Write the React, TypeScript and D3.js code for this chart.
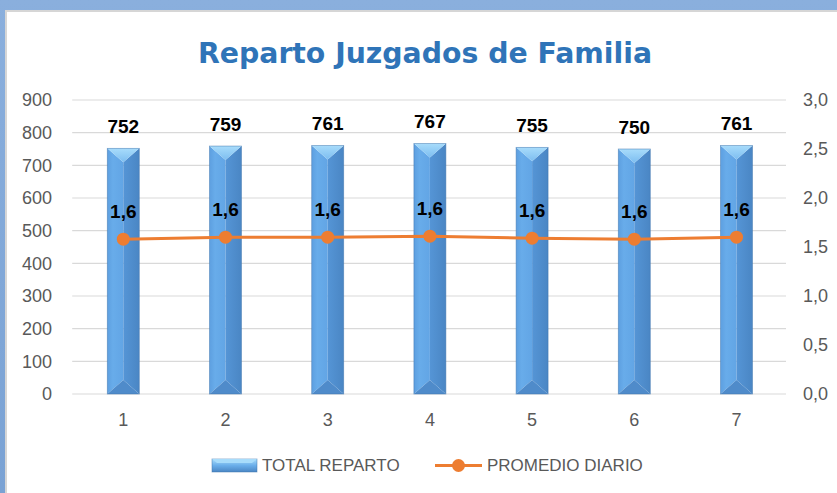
import React from "react";
import * as d3 from "d3";

const categories = ["1", "2", "3", "4", "5", "6", "7"];
const totalReparto = [752, 759, 761, 767, 755, 750, 761];
const promedioDiario = [1.58, 1.6, 1.6, 1.61, 1.59, 1.58, 1.6];
const promedioLabels = ["1,6", "1,6", "1,6", "1,6", "1,6", "1,6", "1,6"];
const leftTicks = [0, 100, 200, 300, 400, 500, 600, 700, 800, 900];
const rightTicks = [0, 0.5, 1, 1.5, 2, 2.5, 3];
const seriesNames = ["TOTAL REPARTO", "PROMEDIO DIARIO"];
const title = "Reparto Juzgados de Familia";

const W = 837;
const H = 493;
const plotL = 72.2;
const plotR = 787.6;
const plotT = 100;
const plotB = 394;
const FONT = "'Liberation Sans', Arial, sans-serif";

export default function App() {
  const x = d3
    .scaleBand<string>()
    .domain(categories)
    .range([plotL, plotR])
    .paddingInner(0.687)
    .paddingOuter(0.687 / 2);
  const yL = d3.scaleLinear().domain([0, 900]).range([plotB, plotT]);
  const yR = d3.scaleLinear().domain([0, 3]).range([plotB, plotT]);
  const bw = x.bandwidth();
  const cx = (c: string) => (x(c) as number) + bw / 2;

  const line = d3
    .line<number>()
    .x((_, i) => cx(categories[i]))
    .y((d) => yR(d));

  const fmtR = (v: number) => v.toFixed(1).replace(".", ",");
  const bev = 14;

  return (
    <div style={{ position: "absolute", left: 0, top: 0 }}>
      <svg width={W} height={H} style={{ display: "block" }}>
        <defs>
          <linearGradient id="frame" x1="0" y1="0" x2="0" y2="1">
            <stop offset="0" stopColor="#8aafdd" />
            <stop offset="1" stopColor="#7aa2d4" />
          </linearGradient>
          <linearGradient id="topTri" x1="0" y1="0" x2="0" y2="1">
            <stop offset="0" stopColor="#a8dcfb" />
            <stop offset="1" stopColor="#7cbdf0" />
          </linearGradient>
          <linearGradient id="leftFace" x1="0" y1="0" x2="1" y2="0">
            <stop offset="0" stopColor="#5d9fe0" />
            <stop offset="0.35" stopColor="#68acea" />
            <stop offset="1" stopColor="#62a5e5" />
          </linearGradient>
          <linearGradient id="rightFace" x1="0" y1="0" x2="1" y2="0">
            <stop offset="0" stopColor="#5595d6" />
            <stop offset="1" stopColor="#4a86c4" />
          </linearGradient>
          <linearGradient id="legSw" x1="0" y1="0" x2="0" y2="1">
            <stop offset="0" stopColor="#a8dcfb" />
            <stop offset="0.5" stopColor="#6aaeea" />
            <stop offset="1" stopColor="#4a86c4" />
          </linearGradient>
        </defs>
        <rect x={0} y={0} width={W} height={H} fill="url(#frame)" />
        <rect x={6} y={11} width={W} height={H} fill="#ffffff" stroke="#d6d6d6" strokeWidth={2} />

        <text
          x={425}
          y={63}
          textAnchor="middle"
          fill="#2f74b8"
          fontFamily="'Comic Sans MS', 'DejaVu Sans', sans-serif"
          fontWeight="bold"
          fontSize={29}
          textLength={454}
          lengthAdjust="spacingAndGlyphs"
        >
          {title}
        </text>

        {leftTicks.map((t) => (
          <line key={"g" + t} x1={plotL} x2={786} y1={yL(t)} y2={yL(t)} stroke="#d9d9d9" strokeWidth={1.2} />
        ))}
        {leftTicks.map((t) => (
          <text
            key={"l" + t}
            x={52}
            y={yL(t)}
            dy="0.35em"
            textAnchor="end"
            fill="#595959"
            fontFamily={FONT}
            fontSize={18}
          >
            {t}
          </text>
        ))}
        {rightTicks.map((t) => (
          <text
            key={"r" + t}
            x={803}
            y={yR(t)}
            dy="0.35em"
            textAnchor="start"
            fill="#595959"
            fontFamily={FONT}
            fontSize={18}
          >
            {fmtR(t)}
          </text>
        ))}
        {categories.map((c) => (
          <text
            key={"x" + c}
            x={cx(c)}
            y={420}
            dy="0.35em"
            textAnchor="middle"
            fill="#595959"
            fontFamily={FONT}
            fontSize={18}
          >
            {c}
          </text>
        ))}

        {categories.map((c, i) => {
          const x0 = x(c) as number;
          const x1 = x0 + bw;
          const xc = x0 + bw / 2;
          const y0 = yL(totalReparto[i]);
          const yb = yL(0);
          return (
            <g key={"b" + c}>
              <polygon points={`${x0},${y0} ${xc},${y0 + bev} ${xc},${yb - bev} ${x0},${yb}`} fill="url(#leftFace)" />
              <polygon points={`${x1},${y0} ${xc},${y0 + bev} ${xc},${yb - bev} ${x1},${yb}`} fill="url(#rightFace)" />
              <polygon points={`${x0},${y0} ${x1},${y0} ${xc},${y0 + bev}`} fill="url(#topTri)" />
              <polygon points={`${x0},${yb} ${x1},${yb} ${xc},${yb - bev}`} fill="#4f8bca" />
              <rect x={x0} y={y0} width={bw} height={yb - y0} fill="none" stroke="#3f74ad" strokeOpacity={0.6} strokeWidth={0.8} />
              <text
                x={xc}
                y={y0 - 22}
                dy="0.35em"
                textAnchor="middle"
                fill="#000"
                fontFamily={FONT}
                fontWeight="bold"
                fontSize={19}
              >
                {totalReparto[i]}
              </text>
            </g>
          );
        })}

        <path d={line(promedioDiario) || ""} fill="none" stroke="#ed7d31" strokeWidth={3} />
        {categories.map((c, i) => (
          <g key={"p" + c}>
            <circle cx={cx(c)} cy={yR(promedioDiario[i])} r={6.5} fill="#ed7d31" />
            <text
              x={cx(c)}
              y={yR(promedioDiario[i]) - 27.5}
              dy="0.35em"
              textAnchor="middle"
              fill="#000"
              fontFamily={FONT}
              fontWeight="bold"
              fontSize={19}
            >
              {promedioLabels[i]}
            </text>
          </g>
        ))}

        <g>
          <rect x={212} y={459} width={45} height={13} fill="url(#legSw)" stroke="#3f74ad" strokeOpacity={0.6} strokeWidth={0.8} />
          <polygon points="212,459 257,459 252,463 217,463" fill="#a8dcfb" />
          <text x={262} y={465.5} dy="0.35em" fill="#595959" fontFamily={FONT} fontSize={17}>
            {seriesNames[0]}
          </text>
          <line x1={435} x2={482} y1={465.5} y2={465.5} stroke="#ed7d31" strokeWidth={3} />
          <circle cx={458.5} cy={465.5} r={6.5} fill="#ed7d31" />
          <text x={487} y={465.5} dy="0.35em" fill="#595959" fontFamily={FONT} fontSize={17}>
            {seriesNames[1]}
          </text>
        </g>
      </svg>
    </div>
  );
}
